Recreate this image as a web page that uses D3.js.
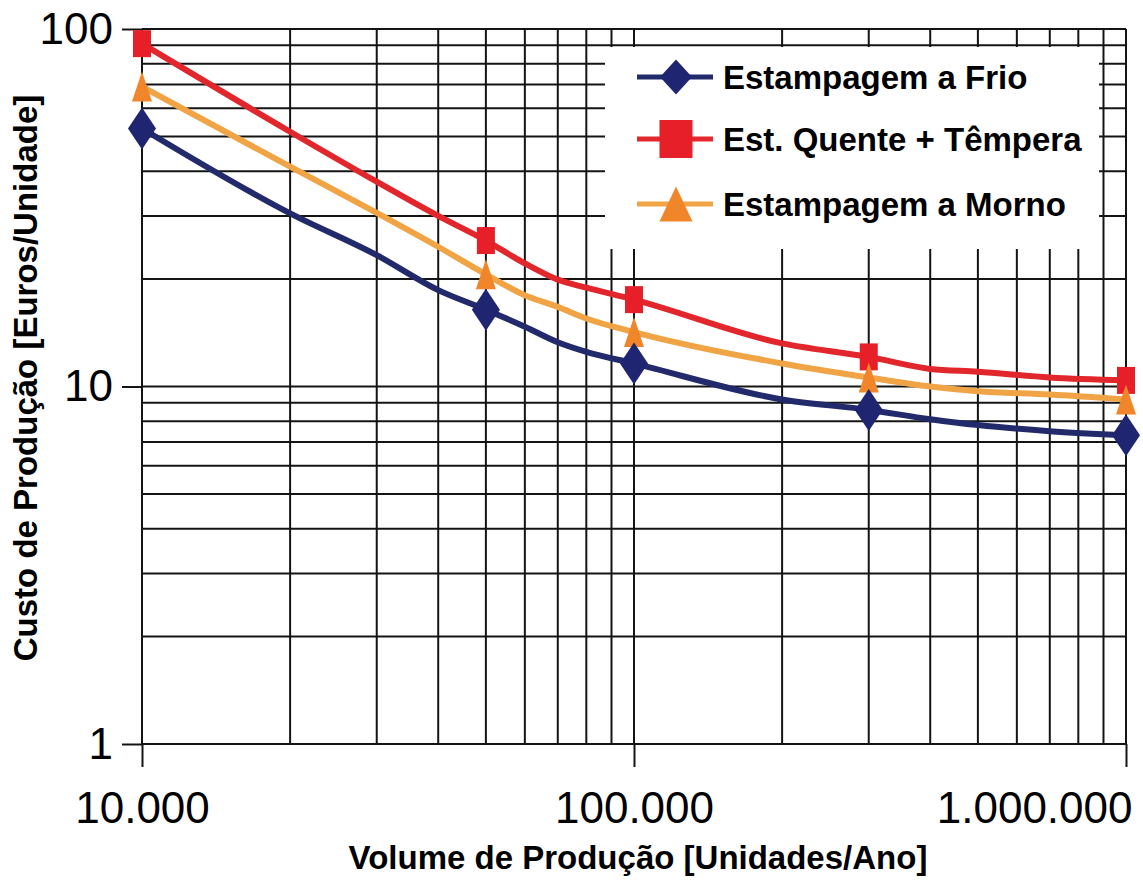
<!DOCTYPE html>
<html>
<head>
<meta charset="utf-8">
<script src="https://cdn.jsdelivr.net/npm/d3@7"></script>
<style>
    body { margin: 0; background: #fff; }
    svg { display: block; }
    text { font-family: "Liberation Sans", Arial, sans-serif; fill: #000; }
</style>
</head>
<body>
<svg id="chart"></svg>
<script>
// values (log-log chart)
var volumes = [10000, 20000, 30000, 40000, 50000, 60000, 70000, 80000, 100000, 200000, 300000, 400000, 500000, 700000, 1000000];
var markedVolumes = [10000, 50000, 100000, 300000, 1000000];

var frio   = [52.7, 30.5, 23.3, 18.6, 16.4, 14.7, 13.3, 12.5, 11.6, 9.2, 8.6, 8.1, 7.8, 7.5, 7.3];
var quente = [91, 51.6, 37.4, 30.0, 25.6, 22.1, 19.9, 18.9, 17.5, 13.2, 12.1, 11.2, 11.0, 10.6, 10.4];
var morno  = [69, 41.2, 30.6, 24.6, 20.6, 18.0, 16.7, 15.5, 14.2, 11.6, 10.6, 10.0, 9.7, 9.5, 9.2];

var seriesNames = ["Estampagem a Frio", "Est. Quente + Têmpera", "Estampagem a Morno"];

var xTickValues = [10000, 100000, 1000000];
var xTickLabels = ["10.000", "100.000", "1.000.000"];
var yTickValues = [1, 10, 100];
var yTickLabels = ["1", "10", "100"];

var xTitle = "Volume de Produção [Unidades/Ano]";
var yTitle = "Custo de Produção [Euros/Unidade]";

var outerWidth = 1143, outerHeight = 883;
var margins = { left: 142, top: 29, right: 17, bottom: 139 };
var innerWidth = outerWidth - margins.left - margins.right,
    innerHeight = outerHeight - margins.top - margins.bottom;

var svg = d3.select("svg#chart")
    .attr("width", outerWidth)
    .attr("height", outerHeight);

svg.append("rect")
    .attr("width", outerWidth)
    .attr("height", outerHeight)
    .attr("fill", "#fff");

var plot = svg.append("g")
    .attr("transform", "translate(" + margins.left + "," + margins.top + ")");

var xScale = d3.scaleLog().domain([10000, 1000000]).range([0, innerWidth]),
    yScale = d3.scaleLog().domain([1, 100]).range([innerHeight, 0]);

// grid: every 1..9 x 10^k
var gridColor = "#141414";
plot.append("g").selectAll("line")
    .data(xScale.ticks())
    .join("line")
    .attr("x1", d => xScale(d)).attr("x2", d => xScale(d))
    .attr("y1", 0).attr("y2", innerHeight)
    .attr("stroke", gridColor)
    .attr("stroke-width", 2);

plot.append("g").selectAll("line")
    .data(yScale.ticks())
    .join("line")
    .attr("y1", d => yScale(d)).attr("y2", d => yScale(d))
    .attr("x1", 0).attr("x2", innerWidth)
    .attr("stroke", gridColor)
    .attr("stroke-width", 2);

// axes (ticks + labels only, the grid is the frame)
var xAxis = plot.append("g")
    .attr("transform", "translate(0," + innerHeight + ")")
    .call(d3.axisBottom(xScale)
        .tickValues(xTickValues)
        .tickSize(23)
        .tickSizeOuter(0)
        .tickPadding(25)
        .tickFormat(function(d, i) { return xTickLabels[i]; }));
xAxis.select(".domain").remove();
xAxis.selectAll("line").attr("stroke", gridColor).attr("stroke-width", 2);
xAxis.selectAll("text")
    .attr("font-size", "44px")
    .attr("font-family", "'Liberation Sans', Arial, sans-serif")
    .attr("fill", "#000");
// last label does not fit centred, it ends at the right edge
xAxis.selectAll(".tick").filter(d => d === 1000000).select("text")
    .attr("text-anchor", "end")
    .attr("dx", 6);

var yAxis = plot.append("g")
    .call(d3.axisLeft(yScale)
        .tickValues(yTickValues)
        .tickSize(20)
        .tickSizeOuter(0)
        .tickPadding(9)
        .tickFormat(function(d, i) { return yTickLabels[i]; }));
yAxis.select(".domain").remove();
yAxis.selectAll("line").attr("stroke", gridColor).attr("stroke-width", 2);
yAxis.selectAll("text")
    .attr("font-size", "44px")
    .attr("font-family", "'Liberation Sans', Arial, sans-serif")
    .attr("fill", "#000");

svg.append("text")
    .attr("x", 638)
    .attr("y", 869)
    .attr("text-anchor", "middle")
    .attr("font-size", "33px")
    .attr("font-weight", "bold")
    .text(xTitle);

svg.append("text")
    .attr("transform", "translate(37,378) rotate(-90)")
    .attr("text-anchor", "middle")
    .attr("font-size", "33px")
    .attr("font-weight", "bold")
    .text(yTitle);

// marker shapes, centred on 0,0
function diamond(w, h) {
    return "M0," + (-h / 2) + "L" + (w / 2) + ",0L0," + (h / 2) + "L" + (-w / 2) + ",0Z";
}
function square(w, h) {
    return "M" + (-w / 2) + "," + (-h / 2) + "h" + w + "v" + h + "h" + (-w) + "Z";
}
function triangle(w, h) {
    return "M0," + (-h / 2) + "L" + (w / 2) + "," + (h / 2) + "L" + (-w / 2) + "," + (h / 2) + "Z";
}

var series = [
    { name: seriesNames[1], values: quente, line: "#e1262c", fill: "#e61f29", shape: square,   plotSize: [18, 27], legSize: [33, 38] },
    { name: seriesNames[2], values: morno,  line: "#f0a445", fill: "#f0852a", shape: triangle, plotSize: [20, 30], legSize: [33, 35] },
    { name: seriesNames[0], values: frio,   line: "#222a6c", fill: "#1f2570", shape: diamond,  plotSize: [28, 42], legSize: [32, 35] }
];

// legend box hides the grid behind it
svg.append("rect")
    .attr("x", 605)
    .attr("y", 47)
    .attr("width", 494)
    .attr("height", 202)
    .attr("fill", "#fff");

var line = d3.line()
    .x((d, i) => xScale(volumes[i]))
    .y(d => yScale(d))
    .curve(d3.curveMonotoneX);

series.forEach(function(s) {
    plot.append("path")
        .datum(s.values)
        .attr("d", line)
        .attr("fill", "none")
        .attr("stroke", s.line)
        .attr("stroke-width", 6)
        .attr("stroke-linejoin", "round");
});

series.forEach(function(s) {
    var pts = volumes.map((v, i) => ({ v: v, c: s.values[i] }))
        .filter(p => markedVolumes.indexOf(p.v) >= 0);
    plot.append("g").selectAll("path")
        .data(pts)
        .join("path")
        .attr("transform", p => "translate(" + xScale(p.v) + "," + yScale(p.c) + ")")
        .attr("d", s.shape(s.plotSize[0], s.plotSize[1]))
        .attr("fill", s.fill);
});

// legend, same order as the picture
var legendOrder = [series[2], series[0], series[1]];
var legendRows = [77, 139, 204];
var legend = svg.append("g");
legendOrder.forEach(function(s, i) {
    var g = legend.append("g").attr("transform", "translate(0," + legendRows[i] + ")");
    g.append("line")
        .attr("x1", 637).attr("x2", 713)
        .attr("y1", 0).attr("y2", 0)
        .attr("stroke", s.line)
        .attr("stroke-width", 5);
    g.append("path")
        .attr("transform", "translate(676,0)")
        .attr("d", s.shape(s.legSize[0], s.legSize[1]))
        .attr("fill", s.fill);
    g.append("text")
        .attr("x", 723)
        .attr("dy", "0.36em")
        .attr("font-size", "33px")
        .attr("font-weight", "bold")
        .text(s.name);
});
</script>
</body>
</html>
